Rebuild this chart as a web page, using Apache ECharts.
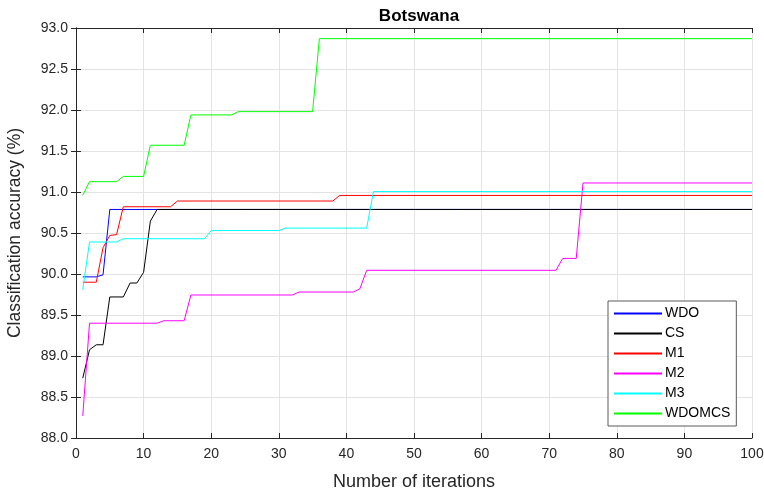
<!DOCTYPE html>
<html>
<head>
<meta charset="utf-8">
<script src="https://cdn.jsdelivr.net/npm/echarts@6/dist/echarts.min.js"></script>
<style>html,body{margin:0;padding:0;background:#fff;}#c{width:764px;height:495px;}</style>
</head>
<body>
<div id="c"></div>
<script>
// Data: [iteration, accuracy] vertices of each convergence curve
const seriesNames = ['WDO', 'CS', 'M1', 'M2', 'M3', 'WDOMCS'];
const WDO = [[1,89.965],[3,89.965],[4,89.99],[5,90.787],[100,90.787]];
const CS = [[1,88.73],[2,89.076],[3,89.137],[4,89.137],[5,89.72],[7,89.72],[8,89.89],[9,89.89],[10,90.02],[11,90.645],[12,90.787],[100,90.787]];
const M1 = [[1,89.90],[3,89.90],[4,90.32],[5,90.47],[6,90.48],[7,90.82],[14,90.82],[15,90.89],[38,90.89],[39,90.958],[100,90.958]];
const M2 = [[1,88.27],[2,89.40],[12,89.40],[13,89.43],[16,89.43],[17,89.744],[32,89.744],[33,89.78],[41,89.78],[42,89.82],[43,90.045],[71,90.045],[72,90.19],[74,90.19],[75,91.11],[100,91.11]];
const M3 = [[1,89.81],[2,90.39],[6,90.39],[7,90.43],[19,90.43],[20,90.53],[30,90.53],[31,90.56],[43,90.56],[44,91.005],[100,91.005]];
const WDOMCS = [[1,90.96],[2,91.126],[6,91.126],[7,91.19],[10,91.19],[11,91.57],[16,91.57],[17,91.94],[23,91.94],[24,91.98],[35,91.98],[36,92.87],[100,92.87]];
const colors = ['#0000ff', '#000000', '#ff0000', '#ff00ff', '#00ffff', '#00ff00'];
const xTicks = {min: 0, max: 100, interval: 10};
const yTicks = {min: 88, max: 93, interval: 0.5};

const allData = [WDO, CS, M1, M2, M3, WDOMCS];
const axisColor = '#262626';
const font = 'Liberation Sans, Arial, sans-serif';

const chart = echarts.init(document.getElementById('c'));
chart.setOption({
  animation: false,
  backgroundColor: '#ffffff',
  title: {
    text: 'Botswana', left: 414, top: 3, textAlign: 'center',
    textStyle: {fontFamily: font, fontSize: 17, fontWeight: 'bold', color: '#000'}
  },
  grid: {left: 76, right: 12, top: 28, bottom: 57, containLabel: false, outerBoundsMode: 'none'},
  legend: {
    orient: 'vertical', left: 608, top: 301,
    data: seriesNames,
    itemWidth: 48, itemHeight: 14, itemGap: 3,
    itemStyle: {opacity: 0},
    padding: [4, 6, 4, 5],
    backgroundColor: '#ffffff', borderColor: '#5a5a5a', borderWidth: 1, borderRadius: 0,
    textStyle: {fontFamily: font, fontSize: 14, color: '#000', lineHeight: 17, padding: [0,0,0,-2]}
  },
  xAxis: [{
    type: 'value', min: xTicks.min, max: xTicks.max, interval: xTicks.interval,
    name: 'Number of iterations', nameLocation: 'middle', nameGap: 35,
    nameTextStyle: {fontFamily: font, fontSize: 18, color: axisColor},
    axisLine: {lineStyle: {color: axisColor, width: 1}},
    axisTick: {inside: true, length: 5, lineStyle: {color: axisColor}},
    axisLabel: {fontFamily: font, fontSize: 14, color: axisColor, margin: 9},
    splitLine: {show: true, lineStyle: {color: '#e3e3e3', width: 1}}
  }, {
    type: 'value', position: 'top', min: xTicks.min, max: xTicks.max, interval: xTicks.interval,
    axisLine: {show: true, lineStyle: {color: axisColor, width: 1}},
    axisTick: {show: true, inside: true, length: 5, lineStyle: {color: axisColor}},
    axisLabel: {show: false}, splitLine: {show: false}
  }],
  yAxis: [{
    type: 'value', min: yTicks.min, max: yTicks.max, interval: yTicks.interval,
    name: 'Classification accuracy (%)', nameLocation: 'middle', nameGap: 52,
    nameTextStyle: {fontFamily: font, fontSize: 17.5, color: axisColor},
    axisLine: {show: true, lineStyle: {color: axisColor, width: 1}},
    axisTick: {show: true, inside: true, length: 5, lineStyle: {color: axisColor}},
    axisLabel: {fontFamily: font, fontSize: 14, color: axisColor, margin: 8, formatter: v => v.toFixed(1)},
    splitLine: {show: true, lineStyle: {color: '#e3e3e3', width: 1}}
  }, {
    type: 'value', position: 'right', min: yTicks.min, max: yTicks.max, interval: yTicks.interval,
    axisLine: {show: true, lineStyle: {color: axisColor, width: 1}},
    axisTick: {show: true, inside: true, length: 5, lineStyle: {color: axisColor}},
    axisLabel: {show: false}, splitLine: {show: false}
  }],
  series: seriesNames.map((n, i) => ({
    name: n, type: 'line', data: allData[i], xAxisIndex: 0, yAxisIndex: 0,
    symbol: 'none', showSymbol: false,
    lineStyle: {color: colors[i], width: 1},
    itemStyle: {color: colors[i]}
  }))
});
</script>
</body>
</html>
